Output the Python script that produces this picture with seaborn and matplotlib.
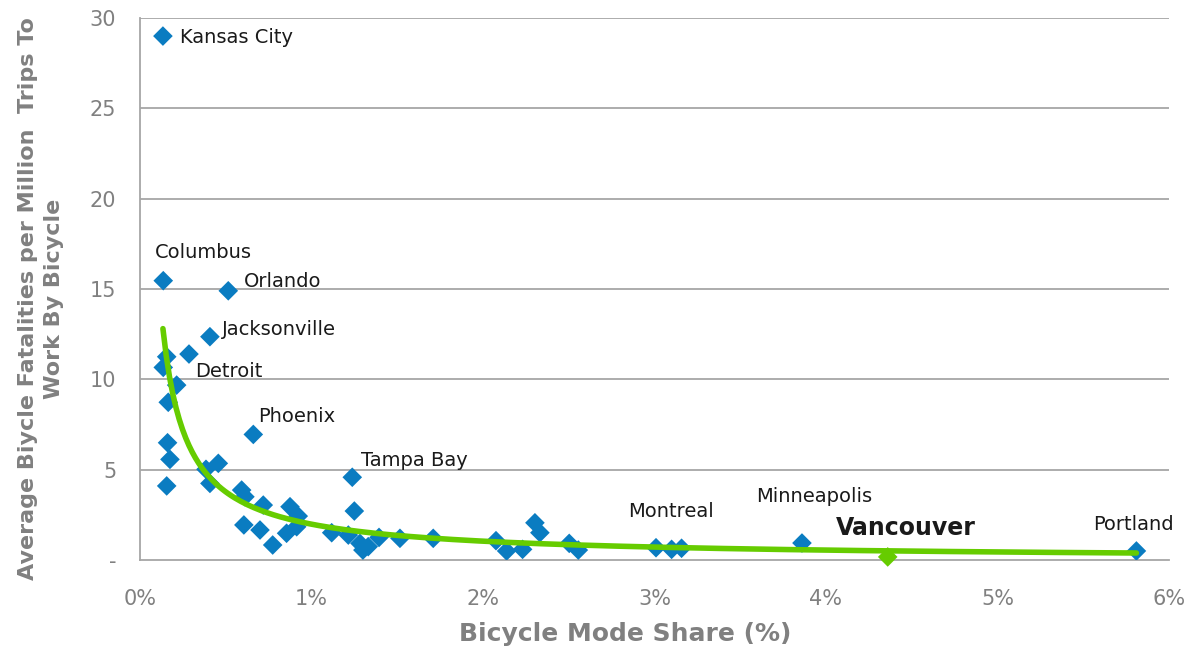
import matplotlib.pyplot as plt
import seaborn as sns
import pandas as pd
import numpy as np
from matplotlib.ticker import FuncFormatter

sns.set_style("white")
plt.rcParams['font.family'] = ['DejaVu Sans']

# bicycle mode share (%) and fatalities per million trips
share = [0.134, 0.136, 0.515, 0.408, 0.286, 0.156, 0.136, 0.214, 0.165, 0.661,
         0.161, 0.175, 0.457, 0.385, 0.156, 0.408, 1.238, 0.593, 0.612, 0.719,
         0.875, 0.923, 1.25, 0.606, 0.70, 0.774, 0.855, 0.914, 1.118, 1.215,
         1.283, 1.30, 1.331, 1.394, 1.516, 1.71, 2.076, 2.138, 2.231, 2.303,
         2.332, 2.503, 2.556, 3.009, 3.10, 3.158, 3.86, 5.81]
fatalities = [29.0, 15.46, 14.9, 12.36, 11.4, 11.25, 10.66, 9.68, 8.73, 6.95,
              6.49, 5.57, 5.35, 5.02, 4.10, 4.24, 4.58, 3.87, 3.5, 3.04,
              2.95, 2.43, 2.71, 1.94, 1.66, 0.83, 1.48, 1.84, 1.51, 1.38,
              0.92, 0.55, 0.74, 1.25, 1.2, 1.2, 1.07, 0.5, 0.59, 2.06,
              1.51, 0.92, 0.55, 0.68, 0.59, 0.65, 0.94, 0.5]

vancouver_share = [4.36]
vancouver_fatalities = [0.17]

# city labels and where their text sits (data coordinates)
label_names = ['Kansas City', 'Columbus', 'Orlando', 'Jacksonville', 'Detroit',
               'Phoenix', 'Tampa Bay', 'Montreal', 'Minneapolis', 'Portland']
label_x = [0.233, 0.087, 0.606, 0.478, 0.321, 0.688, 1.289, 2.845, 3.592, 5.557]
label_y = [28.94, 17.04, 15.44, 12.78, 10.46, 7.97, 5.48, 2.66, 3.49, 1.99]

df = pd.DataFrame({'share': share, 'fatalities': fatalities})

# power trendline (Excel style: least squares in log-log space)
b, log_a = np.polyfit(np.log(df['share']), np.log(df['fatalities']), 1)
trend_x = np.linspace(df['share'].min(), df['share'].max(), 300)
trend = pd.DataFrame({'share': trend_x, 'fatalities': np.exp(log_a) * trend_x ** b})

BLUE = '#0A7CC1'
GREEN = '#66CC00'
GRID = '#A6A6A6'
LABEL_GRAY = '#808080'

fig = plt.figure(figsize=(11.92, 6.52), dpi=100)
ax = fig.add_axes([0.1174, 0.1411, 0.8633, 0.8313])

for y in [5, 10, 15, 20, 25, 30]:
    ax.axhline(y, color=GRID, lw=1.3, zorder=0)

sns.scatterplot(data=df, x='share', y='fatalities', marker='D', s=100,
                color=BLUE, edgecolor='none', ax=ax, zorder=3)
sns.lineplot(data=trend, x='share', y='fatalities', color=GREEN, lw=4,
             ax=ax, zorder=4)
sns.scatterplot(x=vancouver_share, y=vancouver_fatalities, marker='D', s=100,
                color=GREEN, edgecolor='none', ax=ax, zorder=5, clip_on=False)

for name, lx, ly in zip(label_names, label_x, label_y):
    ax.text(lx, ly, name, fontsize=14, color='#1a1a1a', va='center', ha='left')
ax.text(4.06, 1.77, 'Vancouver', fontsize=17, fontweight='bold', color='#1a1a1a',
        va='center', ha='left')

ax.set_xlim(0, 6)
ax.set_ylim(0, 30)
ax.set_xticks(range(0, 7))
ax.xaxis.set_major_formatter(FuncFormatter(lambda v, p: f'{int(v)}%'))
ax.set_yticks(range(0, 31, 5))
ax.yaxis.set_major_formatter(FuncFormatter(lambda v, p: '-' if v == 0 else f'{int(v)}'))

ax.tick_params(axis='both', colors=GRID, labelsize=15, direction='out',
               width=1.3, labelcolor=LABEL_GRAY)
ax.tick_params(axis='y', length=5, pad=12)
ax.tick_params(axis='x', length=6, pad=15)

for side in ['top', 'right']:
    ax.spines[side].set_visible(False)
for side in ['left', 'bottom']:
    ax.spines[side].set_color(GRID)
    ax.spines[side].set_linewidth(1.3)

ax.set_xlabel('Bicycle Mode Share (%)', fontsize=18, fontweight='bold',
              color=LABEL_GRAY)
ax.set_ylabel('Average Biycle Fatalities per Million  Trips To\nWork By Bicycle',
              fontsize=16, fontweight='bold', color=LABEL_GRAY, linespacing=1.35)
ax.xaxis.set_label_coords(0.472, -0.115)
ax.yaxis.set_label_coords(-0.074, 0.482)

fig.savefig('out.png', dpi=100)
